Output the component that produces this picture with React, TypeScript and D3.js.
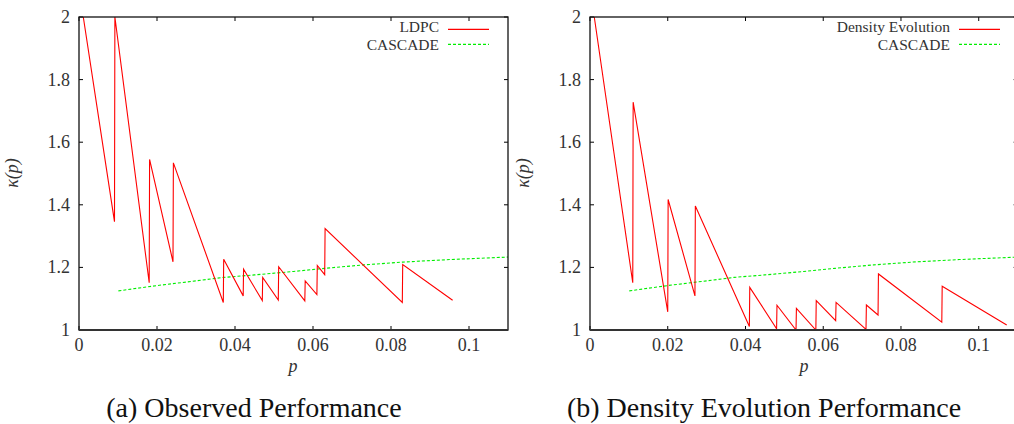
import React from "react";
import * as d3 from "d3";

// ---- data ----
const xTicks = [0, 0.02, 0.04, 0.06, 0.08, 0.1];
const xTickLabels = ["0", "0.02", "0.04", "0.06", "0.08", "0.1"];
const yTicks = [1, 1.2, 1.4, 1.6, 1.8, 2];
const yTickLabels = ["1", "1.2", "1.4", "1.6", "1.8", "2"];

const ldpcP = [0.0011, 0.0091, 0.0092, 0.018, 0.0181, 0.0241, 0.0242, 0.037, 0.0371, 0.0421, 0.0422, 0.047, 0.0471, 0.0511, 0.0512, 0.0579, 0.058, 0.061, 0.0611, 0.063, 0.0631, 0.0829, 0.083, 0.0958];
const ldpcK = [2.0, 1.346, 2.0, 1.151, 1.545, 1.218, 1.534, 1.088, 1.226, 1.109, 1.194, 1.094, 1.168, 1.096, 1.202, 1.093, 1.157, 1.113, 1.206, 1.177, 1.324, 1.088, 1.209, 1.095];

const deP = [0.0011, 0.011, 0.0111, 0.02, 0.0201, 0.027, 0.0271, 0.041, 0.0411, 0.048, 0.0481, 0.053, 0.0531, 0.0581, 0.0582, 0.0632, 0.0633, 0.071, 0.0711, 0.0741, 0.0742, 0.0905, 0.0906, 0.1072];
const deK = [2.0, 1.151, 1.728, 1.058, 1.417, 1.109, 1.396, 1.011, 1.136, 1.004, 1.079, 1.0, 1.069, 1.0, 1.094, 1.03, 1.088, 1.002, 1.08, 1.048, 1.179, 1.025, 1.14, 1.016];

const cascadeP = [0.0101, 0.02, 0.03, 0.037, 0.045, 0.055, 0.063, 0.073, 0.083, 0.095, 0.11];
const cascadeK = [1.125, 1.142, 1.157, 1.168, 1.176, 1.187, 1.197, 1.208, 1.217, 1.225, 1.233];

const captions = ["(a) Observed Performance", "(b) Density Evolution Performance"];
const legendNames = [["LDPC", "CASCADE"], ["Density Evolution", "CASCADE"]];

const FONT = "'Liberation Serif', 'Times New Roman', serif";
const TXT = "#333";

type PanelProps = {
  id: string;
  x0: number;
  x1: number;
  lineP: number[];
  lineK: number[];
  names: string[];
  caption: string;
  legendRight: number;
  captionX: number;
};

function Panel({ id, x0, x1, lineP, lineK, names, caption, legendRight, captionX }: PanelProps) {
  const top = 17;
  const bottom = 330;
  const x = d3.scaleLinear().domain([0, 0.11]).range([x0, x1]);
  const y = d3.scaleLinear().domain([1, 2]).range([bottom, top]);
  const line = d3
    .line<[number, number]>()
    .x((d) => x(d[0]))
    .y((d) => y(d[1]));
  const redPath = line(lineP.map((p, i) => [p, lineK[i]] as [number, number])) || "";
  const greenPath = line(cascadeP.map((p, i) => [p, cascadeK[i]] as [number, number])) || "";
  const tl = 4;
  return (
    <g>
      <defs>
        <clipPath id={id}>
          <rect x={x0} y={top} width={x1 - x0} height={bottom - top} />
        </clipPath>
      </defs>
      {/* ticks */}
      {yTicks.map((t, i) => (
        <g key={"y" + i}>
          <line x1={x0} x2={x0 + tl} y1={y(t)} y2={y(t)} stroke="#000" strokeWidth={1} />
          <line x1={x1} x2={x1 - tl} y1={y(t)} y2={y(t)} stroke="#000" strokeWidth={1} />
          <text x={x0 - 9} y={y(t) + 6} textAnchor="end" fontFamily={FONT} fontSize={18} fill={TXT}>
            {yTickLabels[i]}
          </text>
        </g>
      ))}
      {xTicks.map((t, i) => (
        <g key={"x" + i}>
          <line x1={x(t)} x2={x(t)} y1={bottom} y2={bottom - tl} stroke="#000" strokeWidth={1} />
          <line x1={x(t)} x2={x(t)} y1={top} y2={top + tl} stroke="#000" strokeWidth={1} />
          <text x={x(t)} y={351} textAnchor="middle" fontFamily={FONT} fontSize={18} fill={TXT}>
            {xTickLabels[i]}
          </text>
        </g>
      ))}
      {/* data */}
      <g clipPath={`url(#${id})`}>
        <path d={greenPath} fill="none" stroke="#00ee00" strokeWidth={1.1} strokeDasharray="3,2" />
        <path d={redPath} fill="none" stroke="#ff0000" strokeWidth={1.1} />
      </g>
      {/* frame */}
      <rect x={x0} y={top} width={x1 - x0} height={bottom - top} fill="none" stroke="#111" strokeWidth={1.3} />
      <line x1={x0} x2={x1} y1={bottom} y2={bottom} stroke="#333" strokeWidth={2} />
      {/* legend */}
      <text x={legendRight} y={32} textAnchor="end" fontFamily={FONT} fontSize={15.5} fill={TXT}>
        {names[0]}
      </text>
      <line x1={legendRight + 9} x2={legendRight + 50} y1={29.3} y2={29.3} stroke="#ff0000" strokeWidth={1.2} />
      <text x={legendRight} y={49.5} textAnchor="end" fontFamily={FONT} fontSize={15.5} fill={TXT}>
        {names[1]}
      </text>
      <line x1={legendRight + 9} x2={legendRight + 50} y1={44.3} y2={44.3} stroke="#00ee00" strokeWidth={1.2} strokeDasharray="3,2" />
      {/* axis labels */}
      <text
        transform={`translate(${x0 - 61},173) rotate(-90)`}
        textAnchor="middle"
        fontFamily={FONT}
        fontSize={18}
        fontStyle="italic"
        fill={TXT}
      >
        κ(p)
      </text>
      <text x={x0 + 214} y={372} textAnchor="middle" fontFamily={FONT} fontSize={18} fontStyle="italic" fill={TXT}>
        p
      </text>
      <text x={captionX} y={417} textAnchor="middle" fontFamily={FONT} fontSize={28} fill="#111">
        {caption}
      </text>
    </g>
  );
}

export default function App() {
  return (
    <svg
      width={1014}
      height={424}
      style={{ position: "absolute", left: 0, top: 0, background: "#fff" }}
    >
      <rect width={1014} height={424} fill="#fff" />
      <Panel
        id="clipA"
        x0={79}
        x1={508}
        lineP={ldpcP}
        lineK={ldpcK}
        names={legendNames[0]}
        caption={captions[0]}
        legendRight={439}
        captionX={254}
      />
      <Panel
        id="clipB"
        x0={590}
        x1={1017.6}
        lineP={deP}
        lineK={deK}
        names={legendNames[1]}
        caption={captions[1]}
        legendRight={950}
        captionX={764}
      />
    </svg>
  );
}
